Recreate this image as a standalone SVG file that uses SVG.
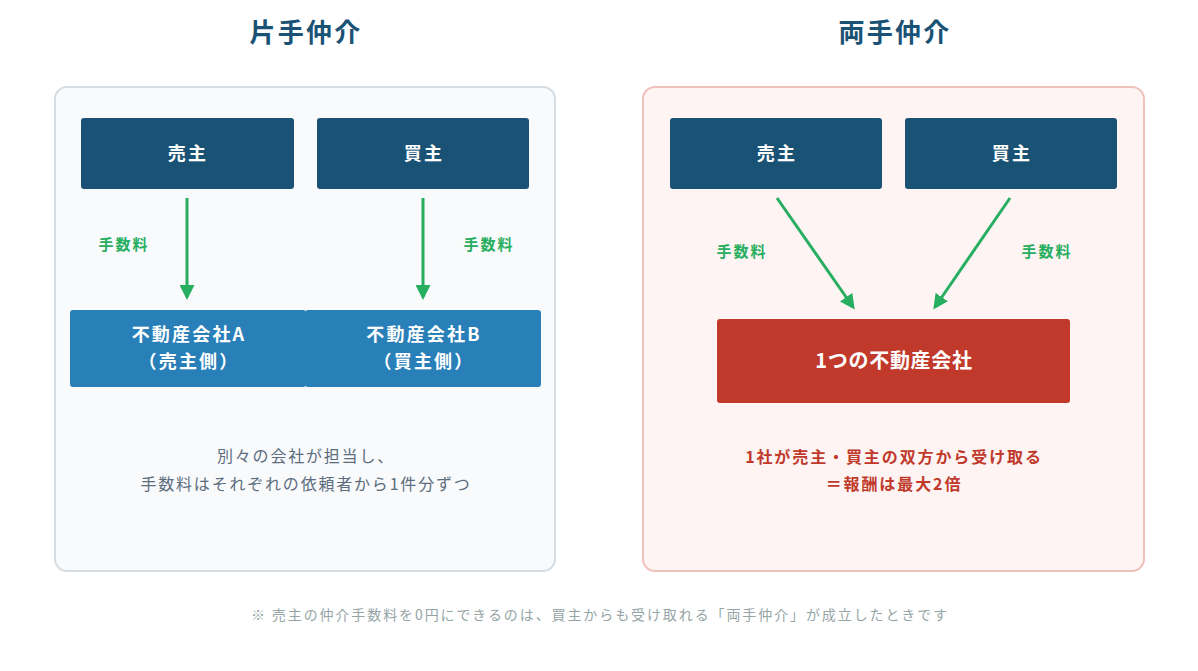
<svg xmlns="http://www.w3.org/2000/svg" width="1198" height="671" viewBox="0 0 1198 671">
<style>
text{font-family:"Noto Sans CJK JP","Noto Sans",sans-serif;text-anchor:middle}
.title{font-size:26px;font-weight:bold;fill:#1a5276;letter-spacing:2.2px}
.dark{fill:#1a5276}
.blue{fill:#2980b9}
.wl{font-size:18px;font-weight:bold;fill:#fff;letter-spacing:2.2px}
.fee{font-size:15px;font-weight:bold;fill:#27ae60;letter-spacing:2px}
.conn{stroke:#27ae60;stroke-width:3;fill:none;marker-end:url(#ah)}
.desc{font-size:16px;fill:#5d6d7e;letter-spacing:1.8px}
.red{font-size:16px;font-weight:bold;fill:#c0392b;letter-spacing:1.9px}
</style>
<defs>
<marker id="ah" markerWidth="5" markerHeight="5" refX="4" refY="2.5" orient="auto" markerUnits="strokeWidth">
<path d="M0,0 L5,2.5 L0,5 z" fill="#27ae60"/>
</marker>
</defs>
<rect width="1198" height="671" fill="#fff"/>
<text class="title" x="306" y="42">片手仲介</text>
<text class="title" x="895" y="42">両手仲介</text>
<g id="panel-left"><rect x="55" y="87" width="500" height="484" rx="12" fill="#f8fafc" stroke="#d5dde3" stroke-width="2"/></g>
<g id="panel-right"><rect x="643" y="87" width="501" height="484" rx="12" fill="#fdf4f3" stroke="#f0c0bb" stroke-width="2"/></g>
<g id="connectors">
<line class="conn" x1="187" y1="198" x2="187" y2="297"/>
<line class="conn" x1="423" y1="198" x2="423" y2="297"/>
<line class="conn" x1="777" y1="198" x2="853" y2="307"/>
<line class="conn" x1="1010" y1="198" x2="935" y2="307"/>
<text class="fee" x="124" y="250">手数料</text>
<text class="fee" x="489" y="250">手数料</text>
<text class="fee" x="742" y="257">手数料</text>
<text class="fee" x="1047" y="257">手数料</text>
</g>
<g id="seller-l"><rect class="dark" x="81" y="118" width="213" height="71" rx="3"/><text class="wl" x="188" y="160">売主</text></g>
<g id="buyer-l"><rect class="dark" x="317" y="118" width="212" height="71" rx="3"/><text class="wl" x="424" y="160">買主</text></g>
<g id="agent-a"><rect class="blue" x="70" y="310" width="236" height="77" rx="3"/><text class="wl" x="189" y="341">不動産会社A</text><text class="wl" x="189" y="368">（売主側）</text></g>
<g id="agent-b"><rect class="blue" x="305" y="310" width="236" height="77" rx="3"/><text class="wl" x="424" y="341">不動産会社B</text><text class="wl" x="424" y="368">（買主側）</text></g>
<g id="seller-r"><rect class="dark" x="670" y="118" width="212" height="71" rx="3"/><text class="wl" x="777" y="160">売主</text></g>
<g id="buyer-r"><rect class="dark" x="905" y="118" width="212" height="71" rx="3"/><text class="wl" x="1012" y="160">買主</text></g>
<g id="agent-one"><rect x="717" y="319" width="353" height="84" rx="3" fill="#c0392b"/><text class="wl" x="894" y="368" style="font-size:20px;letter-spacing:0.7px">1つの不動産会社</text></g>
<text class="desc" x="306" y="462">別々の会社が担当し、</text>
<text class="desc" x="306" y="490">手数料はそれぞれの依頼者から1件分ずつ</text>
<text class="red" x="894" y="463">1社が売主・買主の双方から受け取る</text>
<text class="red" x="894" y="490">＝報酬は最大2倍</text>
<text x="600" y="620" style="font-size:14px;fill:#95a5a6;letter-spacing:1.9px">※ 売主の仲介手数料を0円にできるのは、買主からも受け取れる「両手仲介」が成立したときです</text>
</svg>
